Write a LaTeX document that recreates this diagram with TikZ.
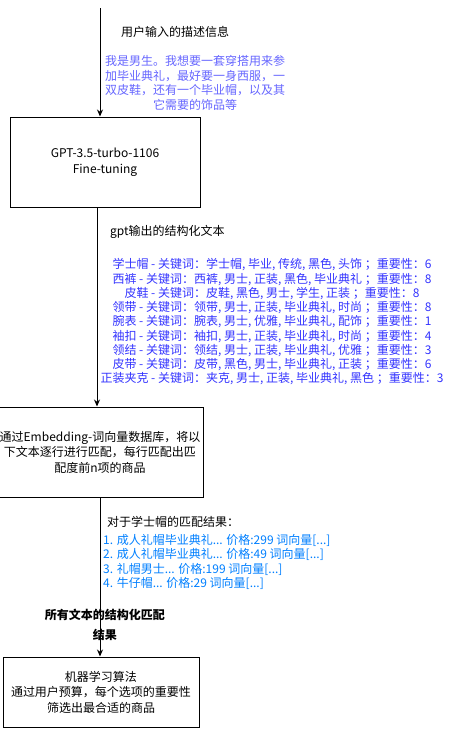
\documentclass[tikz,border=0pt]{standalone}
\usepackage{fontspec}
\setmainfont{Noto Sans CJK SC}
\usetikzlibrary{arrows.meta}

\definecolor{userblue}{HTML}{6666FF}
\definecolor{keyblue}{HTML}{3333FF}
\definecolor{matchblue}{HTML}{007FFF}

\begin{document}
\begin{tikzpicture}[x=1pt,y=-1pt]

      \useasboundingbox (0,0) rectangle (466,729);

      \begin{scope}[every node/.style={rectangle,draw,line width=1pt,align=center,
          font=\fontsize{12}{15.5}\selectfont}]
        \node (1) at (105,162) [minimum width=190pt,minimum height=90pt] {GPT-3.5-turbo-1106\\Fine-tuning};
        \node (2) at (100,452) [minimum width=200pt,minimum height=90pt] {通过Embedding-词向量数据库，将以\\下文本逐行进行匹配，每行匹配出匹\\配度前n项的商品};
        \node (3) at (101,692) [minimum width=196pt,minimum height=70pt] {机器学习算法\\通过用户预算，每个选项的重要性\\筛选出最合适的商品};
      \end{scope}

      \begin{scope}[every node/.style={inner sep=0pt,font=\fontsize{12}{14.5}\selectfont}]
        \node (4) at (175,32) {用户输入的描述信息};
        \node[userblue,align=center] (5) at (195,83) {我是男生。我想要一套穿搭用来参\\加毕业典礼，最好要一身西服，一\\双皮鞋，还有一个毕业帽，以及其\\它需要的饰品等};
        \node[anchor=west] (6) at (110,232) {gpt输出的结构化文本};
        \node[keyblue,align=center,font=\fontsize{12}{14.25}\selectfont] (7) at (272,322) {学士帽 - 关键词：学士帽, 毕业, 传统, 黑色, 头饰 ；重要性：6\\
          西裤 - 关键词：西裤, 男士, 正装, 黑色, 毕业典礼 ；重要性：8\\
          皮鞋 - 关键词：皮鞋, 黑色, 男士, 学生, 正装 ；重要性：8\\
          领带 - 关键词：领带, 男士, 正装, 毕业典礼, 时尚 ；重要性：8\\
          腕表 - 关键词：腕表, 男士, 优雅, 毕业典礼, 配饰 ；重要性：1\\
          袖扣 - 关键词：袖扣, 男士, 正装, 毕业典礼, 时尚 ；重要性：4\\
          领结 - 关键词：领结, 男士, 正装, 毕业典礼, 优雅 ；重要性：3\\
          皮带 - 关键词：皮带, 黑色, 男士, 毕业典礼, 正装 ；重要性：6\\
          正装夹克 - 关键词：夹克, 男士, 正装, 毕业典礼, 黑色 ；重要性：3};
        \node[anchor=west] (8) at (107,522) {对于学士帽的匹配结果：};
        \node[matchblue,anchor=west,align=left] (9) at (103,562) {1. 成人礼帽毕业典礼... 价格:299 词向量[...]\\
          2. 成人礼帽毕业典礼... 价格:49 词向量[...]\\
          3. 礼帽男士... 价格:199 词向量[...]\\
          4. 牛仔帽... 价格:29 词向量[...]};
        \node[align=center,font=\fontsize{12}{20}\selectfont\bfseries] (10) at (105,625) {所有文本的结构化匹配\\结果};
      \end{scope}

      \coordinate (0) at (100,8);
      \coordinate (11) at (97,207);

      \begin{scope}[every edge/.style={draw,line width=1pt,-{Stealth[length=7pt,width=6pt]}}]
        \path (0)  edge (0 |- 1.north);
        \path (11) edge (11 |- 2.north);
        \path (2.south) edge (2.south |- 3.north);
      \end{scope}

    \end{tikzpicture}
\end{document}
